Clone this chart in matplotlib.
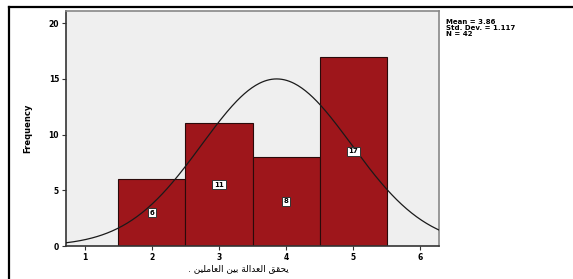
import numpy as np
import matplotlib.pyplot as plt
from matplotlib.lines import Line2D

# data
categories = [2, 3, 4, 5]
counts = [6, 11, 8, 17]
mean_val = 3.86
std_val = 1.117
n_total = 42
x_ticks = [1, 2, 3, 4, 5, 6]
y_ticks = [0, 5, 10, 15, 20]

# Arabic label, written in visual order with presentation forms
# logical text: "يحقق العدالة بين العاملين ."
w_amilin = "\uFEE6\uFEF4\uFEE0\uFEE3\uFE8E\uFECC\uFEDF\uFE8D"
w_bayn = "\uFEE6\uFEF4\uFE91"
w_adala = "\uFE94\uFEDF\uFE8D\uFEAA\uFECC\uFEDF\uFE8D"
w_yuhaqqiq = "\uFED6\uFED8\uFEA4\uFEF3"
xlabel = ". " + w_amilin + " " + w_bayn + " " + w_adala + " " + w_yuhaqqiq


def main():
    plt.rcParams['font.family'] = ['DejaVu Sans']
    fig = plt.figure(figsize=(5.73, 2.79), dpi=100)
    W, H = 573, 279
    ax = fig.add_axes([66 / W, (H - 246) / H, (439 - 66) / W, (246 - 11) / H])
    ax.set_facecolor('#efefef')
    for sp in ax.spines.values():
        sp.set_color('#888888')
        sp.set_linewidth(1.2)
    ax.spines['left'].set_color('#333333')
    ax.spines['bottom'].set_color('#333333')

    ax.bar(categories, counts, width=1.0, color='#9e161b', edgecolor='#2a0a0a',
           linewidth=0.8, zorder=2)

    xs = np.linspace(0.72, 6.28, 300)
    ys = n_total * 1.0 / (std_val * np.sqrt(2 * np.pi)) * np.exp(-0.5 * ((xs - mean_val) / std_val) ** 2)
    ax.plot(xs, ys, color='#1a1a1a', lw=0.9, zorder=3)

    for c, v in zip(categories, counts):
        ax.text(c, v / 2, str(v), ha='center', va='center', fontsize=5,
                fontweight='bold', zorder=4,
                bbox=dict(boxstyle='square,pad=0.25', fc='white', ec='#333333', lw=0.7))

    ax.set_xlim(0.72, 6.28)
    ax.set_ylim(0, 21.1)
    ax.set_xticks(x_ticks)
    ax.set_yticks(y_ticks)
    ax.tick_params(axis='both', labelsize=5.5, length=3, width=0.8, pad=2,
                   color='#333333')
    for lab in ax.get_xticklabels() + ax.get_yticklabels():
        lab.set_fontweight('bold')

    ax.set_ylabel('Frequency', fontsize=6, fontweight='bold', labelpad=12)
    ax.set_xlabel(xlabel, fontsize=6.5, labelpad=4)
    ax.xaxis.set_label_coords((238 - 66) / (439 - 66), -0.075)

    fig.text(446 / W, 1 - 19 / H, 'Mean = 3.86\nStd. Dev. = 1.117\nN = 42',
             fontsize=5, fontweight='bold', va='top', ha='left', linespacing=1.0)

    # outer frame (top and left edges)
    fig.add_artist(Line2D([9 / W, 1.0], [1 - 7 / H, 1 - 7 / H], color='black', lw=1.6,
                          transform=fig.transFigure))
    fig.add_artist(Line2D([9 / W, 9 / W], [0, 1 - 7 / H], color='black', lw=1.6,
                          transform=fig.transFigure))

    fig.savefig('out.png', dpi=100)


if __name__ == '__main__':
    main()
